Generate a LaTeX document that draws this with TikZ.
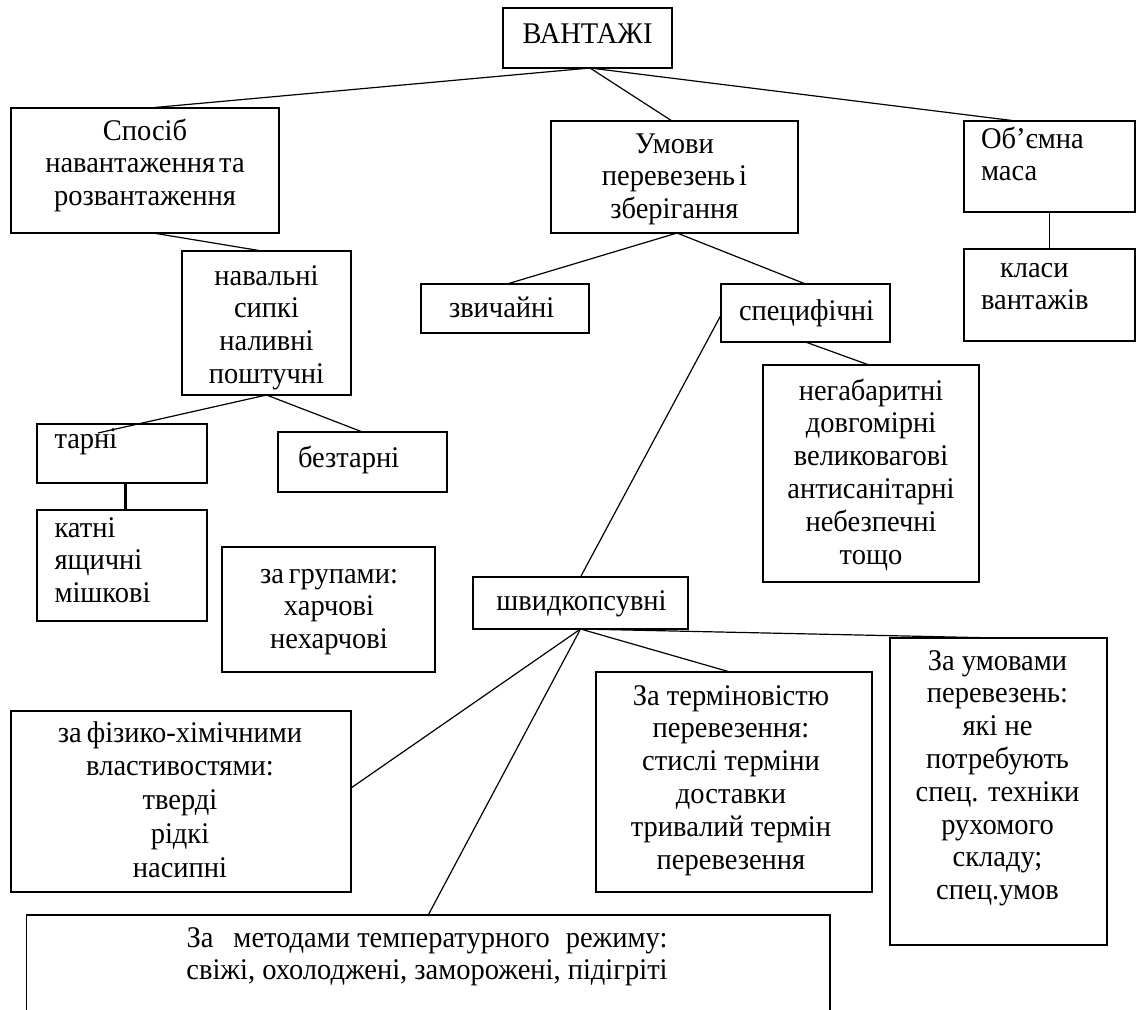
\documentclass[tikz,border=0pt]{standalone}
\usepackage{fontspec}
\setmainfont{Liberation Serif}[FakeStretch=0.95]
\newcommand\bodyfont{\fontsize{30}{32.8}\selectfont}
\newcommand\clines[1]{\vtop{\halign{\hfil##\hfil\cr#1\crcr}}}
\newcommand\llines[1]{\vtop{\halign{##\hfil\cr#1\crcr}}}
\tikzset{
  box/.style={draw, line width=1.3pt, inner sep=0pt, outer sep=0pt},
  txt/.style={inner sep=0pt, outer sep=0pt, font=\bodyfont},
  link/.style={line width=1.2pt},
  thicklink/.style={line width=2.8pt},
}
\begin{document}
\begin{tikzpicture}[x=1pt,y=-1pt]
\clip (0,0) rectangle (1137,1009);
\fill[white] (0,0) rectangle (1137,1009);
% boxes
\node[box, minimum width=169pt, minimum height=60pt] (vant) at (587.5,38) {};
\node[box, minimum width=268pt, minimum height=125pt] (sposib) at (145,170.5) {};
\node[box, minimum width=247pt, minimum height=112pt] (umovy) at (674.5,177) {};
\node[box, minimum width=171pt, minimum height=91pt] (obiem) at (1049.5,166.5) {};
\node[box, minimum width=171pt, minimum height=92pt] (klasy) at (1049.5,295) {};
\node[box, minimum width=168pt, minimum height=49pt] (zvych) at (505,308.5) {};
\node[box, minimum width=169pt, minimum height=58pt] (spec) at (805.5,313) {};
\node[box, minimum width=169pt, minimum height=144pt] (naval) at (266.5,323) {};
\node[box, minimum width=170pt, minimum height=59pt] (tarni) at (122,453.5) {};
\node[box, minimum width=169pt, minimum height=60pt] (beztar) at (362.5,462) {};
\node[box, minimum width=170pt, minimum height=111pt] (katni) at (122,565.5) {};
\node[box, minimum width=213pt, minimum height=125pt] (grupy) at (328.5,609.5) {};
\node[box, minimum width=216pt, minimum height=217pt] (negab) at (871,473.5) {};
\node[box, minimum width=215pt, minimum height=52pt] (shvyd) at (580.5,603) {};
\node[box, minimum width=340pt, minimum height=181pt] (fiz) at (181,801.5) {};
\node[box, minimum width=276pt, minimum height=220pt] (termin) at (734,782) {};
\node[box, minimum width=217pt, minimum height=307pt] (umperev) at (998.5,791.5) {};
\node[box, minimum width=803.5pt, minimum height=125pt] (metod) at (428.25,977.5) {};
% texts
\node[txt, anchor=base] (t-vant) at (587.5,43) {ВАНТАЖІ};
\node[txt, anchor=base] (t-sposib) at (145,140) {\clines{Спосіб\cr навантаження\hspace{4pt}та\cr розвантаження}};
\node[txt, anchor=base] (t-umovy) at (674.5,153) {\clines{Умови\cr перевезень\hspace{4pt}і\cr зберігання}};
\node[txt, anchor=base west] (t-obiem) at (981,148) {\llines{Об’ємна\cr маса}};
\node[txt, anchor=base west] (t-klasy) at (981,277) {\llines{\hspace{19pt}класи\cr вантажів}};
\node[txt, anchor=base west] (t-zvych) at (449,317) {звичайні};
\node[txt, anchor=base] (t-spec) at (806.5,320) {специфічні};
\node[txt, anchor=base] (t-naval) at (266.5,285) {\clines{навальні\cr сипкі\cr наливні\cr поштучні}};
\node[txt, anchor=base west] (t-tarni) at (54.5,448) {тарні};
\node[txt, anchor=base west] (t-beztar) at (298,467) {безтарні};
\node[txt, anchor=base west] (t-katni) at (54.5,537) {\llines{катні\cr ящичні\cr мішкові}};
\node[txt, anchor=base] (t-grupy) at (329,583) {\clines{за\hspace{5pt}групами:\cr харчові\cr нехарчові}};
\node[txt, anchor=base] (t-negab) at (871,400) {\clines{негабаритні\cr довгомірні\cr великовагові\cr антисанітарні\cr небезпечні\cr тощо}};
\node[txt, anchor=base] (t-shvyd) at (581.5,610) {швидкопсувні};
\node[txt, anchor=base, font=\fontsize{30}{33.8}\selectfont] (t-fiz) at (180,742) {\clines{за\hspace{5pt}фізико-хімічними\cr властивостями:\cr тверді\cr рідкі\cr насипні}};
\node[txt, anchor=base] (t-termin) at (731,705) {\clines{За терміновістю\cr перевезення:\cr стислі терміни\cr доставки\cr тривалий термін\cr перевезення}};
\node[txt, anchor=base] (t-umperev) at (997.5,670) {\clines{За умовами\cr перевезень:\cr які не\cr потребують\cr спец. техніки\cr рухомого\cr складу;\cr спец.умов}};
\node[txt, anchor=base] (t-metod) at (427,947) {\clines{За\hspace{20pt}методами температурного\hspace{16pt}режиму:\cr свіжі, охолоджені, заморожені, підігріті}};
% connectors
\draw[link] ([xshift=2.5pt]vant.south) -- ([xshift=4pt]sposib.north);
\draw[link] ([xshift=2.5pt]vant.south) -- ([xshift=-2.5pt]umovy.north);
\draw[link] ([xshift=2.5pt]vant.south) -- ([xshift=-33.5pt]obiem.north);
\draw[link] ([xshift=8pt]sposib.south) -- ([xshift=-4.5pt]naval.north);
\draw[link] (naval.south) -- ([xshift=-24pt,yshift=-9pt]tarni.north);
\draw[link] (naval.south) -- (beztar.north);
\draw[thicklink] ([xshift=3.5pt]tarni.south) -- ([xshift=3.5pt]katni.north);
\draw[link] ([xshift=2.5pt]umovy.south) -- ([xshift=2pt]zvych.north);
\draw[link] ([xshift=2.5pt]umovy.south) -- (spec.north);
\draw[link] ([yshift=-2pt]spec.west) -- (shvyd.north);
\draw[link] (spec.south) -- ([xshift=-2pt]negab.north);
\draw[link] (obiem.south) -- (klasy.north);
\draw[link] (shvyd.south) -- (umperev.north);
\draw[link] (shvyd.south) -- ([xshift=-4pt]termin.north);
\draw[link] (shvyd.south) -- ([yshift=13.5pt]fiz.east);
\draw[link] (shvyd.south) -- (metod.north);
\end{tikzpicture}
\end{document}
